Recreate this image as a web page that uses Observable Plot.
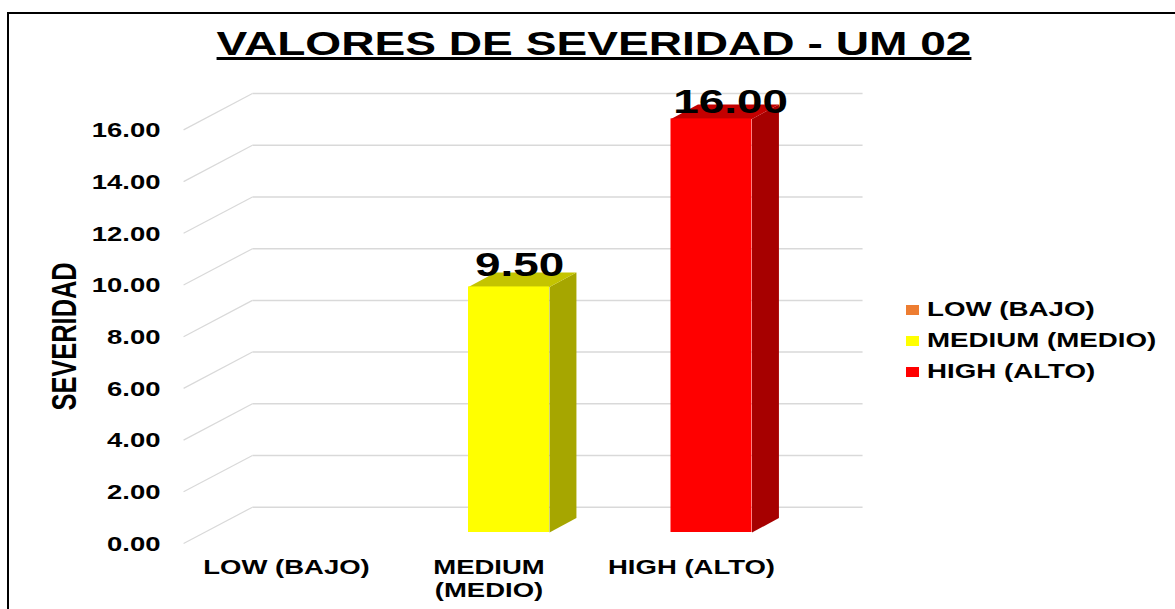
<!DOCTYPE html>
<html><head><meta charset="utf-8">
<script src="https://cdn.jsdelivr.net/npm/d3@7"></script>
<script src="https://cdn.jsdelivr.net/npm/@observablehq/plot@0.6"></script>
<style>
html,body{margin:0;padding:0;background:#fff;overflow:hidden}
#page{position:relative;width:1175px;height:609px;overflow:hidden;font-family:"Liberation Sans",Arial,sans-serif;font-weight:700;color:#000}
#frame{position:absolute;left:7px;top:12px;width:1300px;height:800px;border:2px solid #000;pointer-events:none}
#title{height:75px;position:relative}
#title span{position:absolute;left:593.5px;top:24px;font-size:34px;line-height:39px;white-space:nowrap;text-decoration:underline;transform:translateX(-50%) scaleX(1.356)}
#chart svg{display:block}
#legend{position:absolute;left:906px;top:295px}
.item{position:relative;height:31px;width:260px}
.item i{position:absolute;left:0;top:10px;width:13px;height:10px}
.item b{position:absolute;left:21px;top:2px;font-size:19.5px;line-height:24px;white-space:nowrap;transform-origin:left center;transform:scaleX(1.42)}
</style></head><body>
<div id="page">
<div id="frame"></div>
<div id="title"><span>VALORES DE SEVERIDAD - UM 02</span></div>
<div id="chart"></div>
<div id="legend"></div>
</div>
<script>
const titleText = "VALORES DE SEVERIDAD - UM 02";
const categories = ["LOW (BAJO)", "MEDIUM\n(MEDIO)", "HIGH (ALTO)"];
const legendLabels = ["LOW (BAJO)", "MEDIUM (MEDIO)", "HIGH (ALTO)"];
const severity = [null, 9.5, 16];
const faceColors = ["#ED7D31", "#FFFF00", "#FF0000"];
const sideColors = ["#8E4B1D", "#A6A600", "#A60000"];
const topColors = ["#BE6427", "#C4C400", "#C40000"];
const labelLift = [0, 0.81, 0.62];
const labelShift = [0, 0.052, 0.094];
const yTicks = [0, 2, 4, 6, 8, 10, 12, 14, 16];

// 3D look, in data units: half bar width, bar depth, wall and front offsets
const halfBar = 0.2, depthX = 0.133, depthY = 0.56;
const wallX = -0.267, wallY = 0.979, frontX = -0.607, frontY = -0.4255, wallEnd = 2.746;

const STRETCH = 1.41;
const bars = categories.map((c, i) => ({i, v: severity[i]})).filter(d => d.v != null);

const sidePolys = bars.flatMap(({i, v}) => {
  const R = i + halfBar;
  return [[R, 0], [R + depthX, depthY], [R + depthX, v + depthY], [R, v]]
    .map(([x, y]) => ({id: i, x, y, c: sideColors[i]}));
});
const topPolys = bars.flatMap(({i, v}) => {
  const L = i - halfBar, R = i + halfBar;
  return [[L, v], [L + depthX, v + depthY], [R + depthX, v + depthY], [R, v]]
    .map(([x, y]) => ({id: i, x, y, c: topColors[i]}));
});
const grid = "#D9D9D9";

const svgPlot = Plot.plot({
  width: 1175, height: 534,
  marginTop: 0, marginBottom: 0, marginLeft: 183, marginRight: 0,
  style: {background: "transparent", fontFamily: '"Liberation Sans",Arial,sans-serif'},
  x: {type: "linear", domain: [0, 2], range: [306, 711]},
  y: {type: "linear", domain: [0, 16], range: [457, 43.4]},
  marks: [
    // back wall and left side wall
    Plot.link(yTicks, {x1: wallX, x2: wallEnd, y1: d => d + wallY, y2: d => d + wallY, stroke: grid, strokeWidth: 1.5}),
    Plot.link(yTicks, {x1: frontX, x2: wallX, y1: d => d + frontY, y2: d => d + wallY, stroke: grid, strokeWidth: 1.2}),
    // bar faces
    Plot.line(sidePolys, {x: "x", y: "y", z: "id", fill: "c", stroke: "none"}),
    Plot.line(topPolys, {x: "x", y: "y", z: "id", fill: "c", stroke: "none"}),
    Plot.rect(bars, {x1: d => d.i - halfBar, x2: d => d.i + halfBar, y1: 0, y2: d => d.v, fill: d => faceColors[d.i]}),
    // axes
    Plot.axisY({anchor: "left", ticks: yTicks, tickSize: 0, tickPadding: 23, dy: 12, label: null,
      tickFormat: d => d.toFixed(2), fontSize: 19.5, fontWeight: 700, fill: "#000"}),
    Plot.axisX({anchor: "bottom", ticks: [0, 1, 2], tickSize: 0, label: null, tickFormat: i => categories[i],
      fontSize: 19.5, fontWeight: 700, fill: "#000", dx: -20, dy: -61, lineHeight: 1.18, textOverflow: null, lineAnchor: "top"}),
    // value labels
    Plot.text(bars, {x: d => d.i + labelShift[d.i], y: d => d.v + labelLift[d.i], text: d => d.v.toFixed(2),
      fontSize: 32.5, fontWeight: 700, fill: "#000"}),
    // y title
    Plot.text(["SEVERIDAD"], {frameAnchor: "left", text: d => d, rotate: -90, dx: -119, dy: 68,
      fontSize: 25.4, fontWeight: 700, fill: "#000"})
  ]
});
document.getElementById("chart").append(svgPlot);

// the reference is stretched sideways: widen the glyphs along x
d3.select(svgPlot).selectAll("text").each(function() {
  if (this.textContent === "SEVERIDAD") {
    this.setAttribute("transform", (this.getAttribute("transform") || "") + " scale(1,1.4)");
    return;
  }
  const spans = this.querySelectorAll("tspan");
  (spans.length ? [...spans] : [this]).forEach(el => {
    const w = el.getComputedTextLength();
    el.setAttribute("textLength", (w * STRETCH).toFixed(1));
    el.setAttribute("lengthAdjust", "spacingAndGlyphs");
  });
});

const legend = d3.select("#legend");
legendLabels.forEach((t, i) => {
  const it = legend.append("div").attr("class", "item");
  it.append("i").style("background", faceColors[i]);
  it.append("b").text(t);
});
</script>
</body></html>
